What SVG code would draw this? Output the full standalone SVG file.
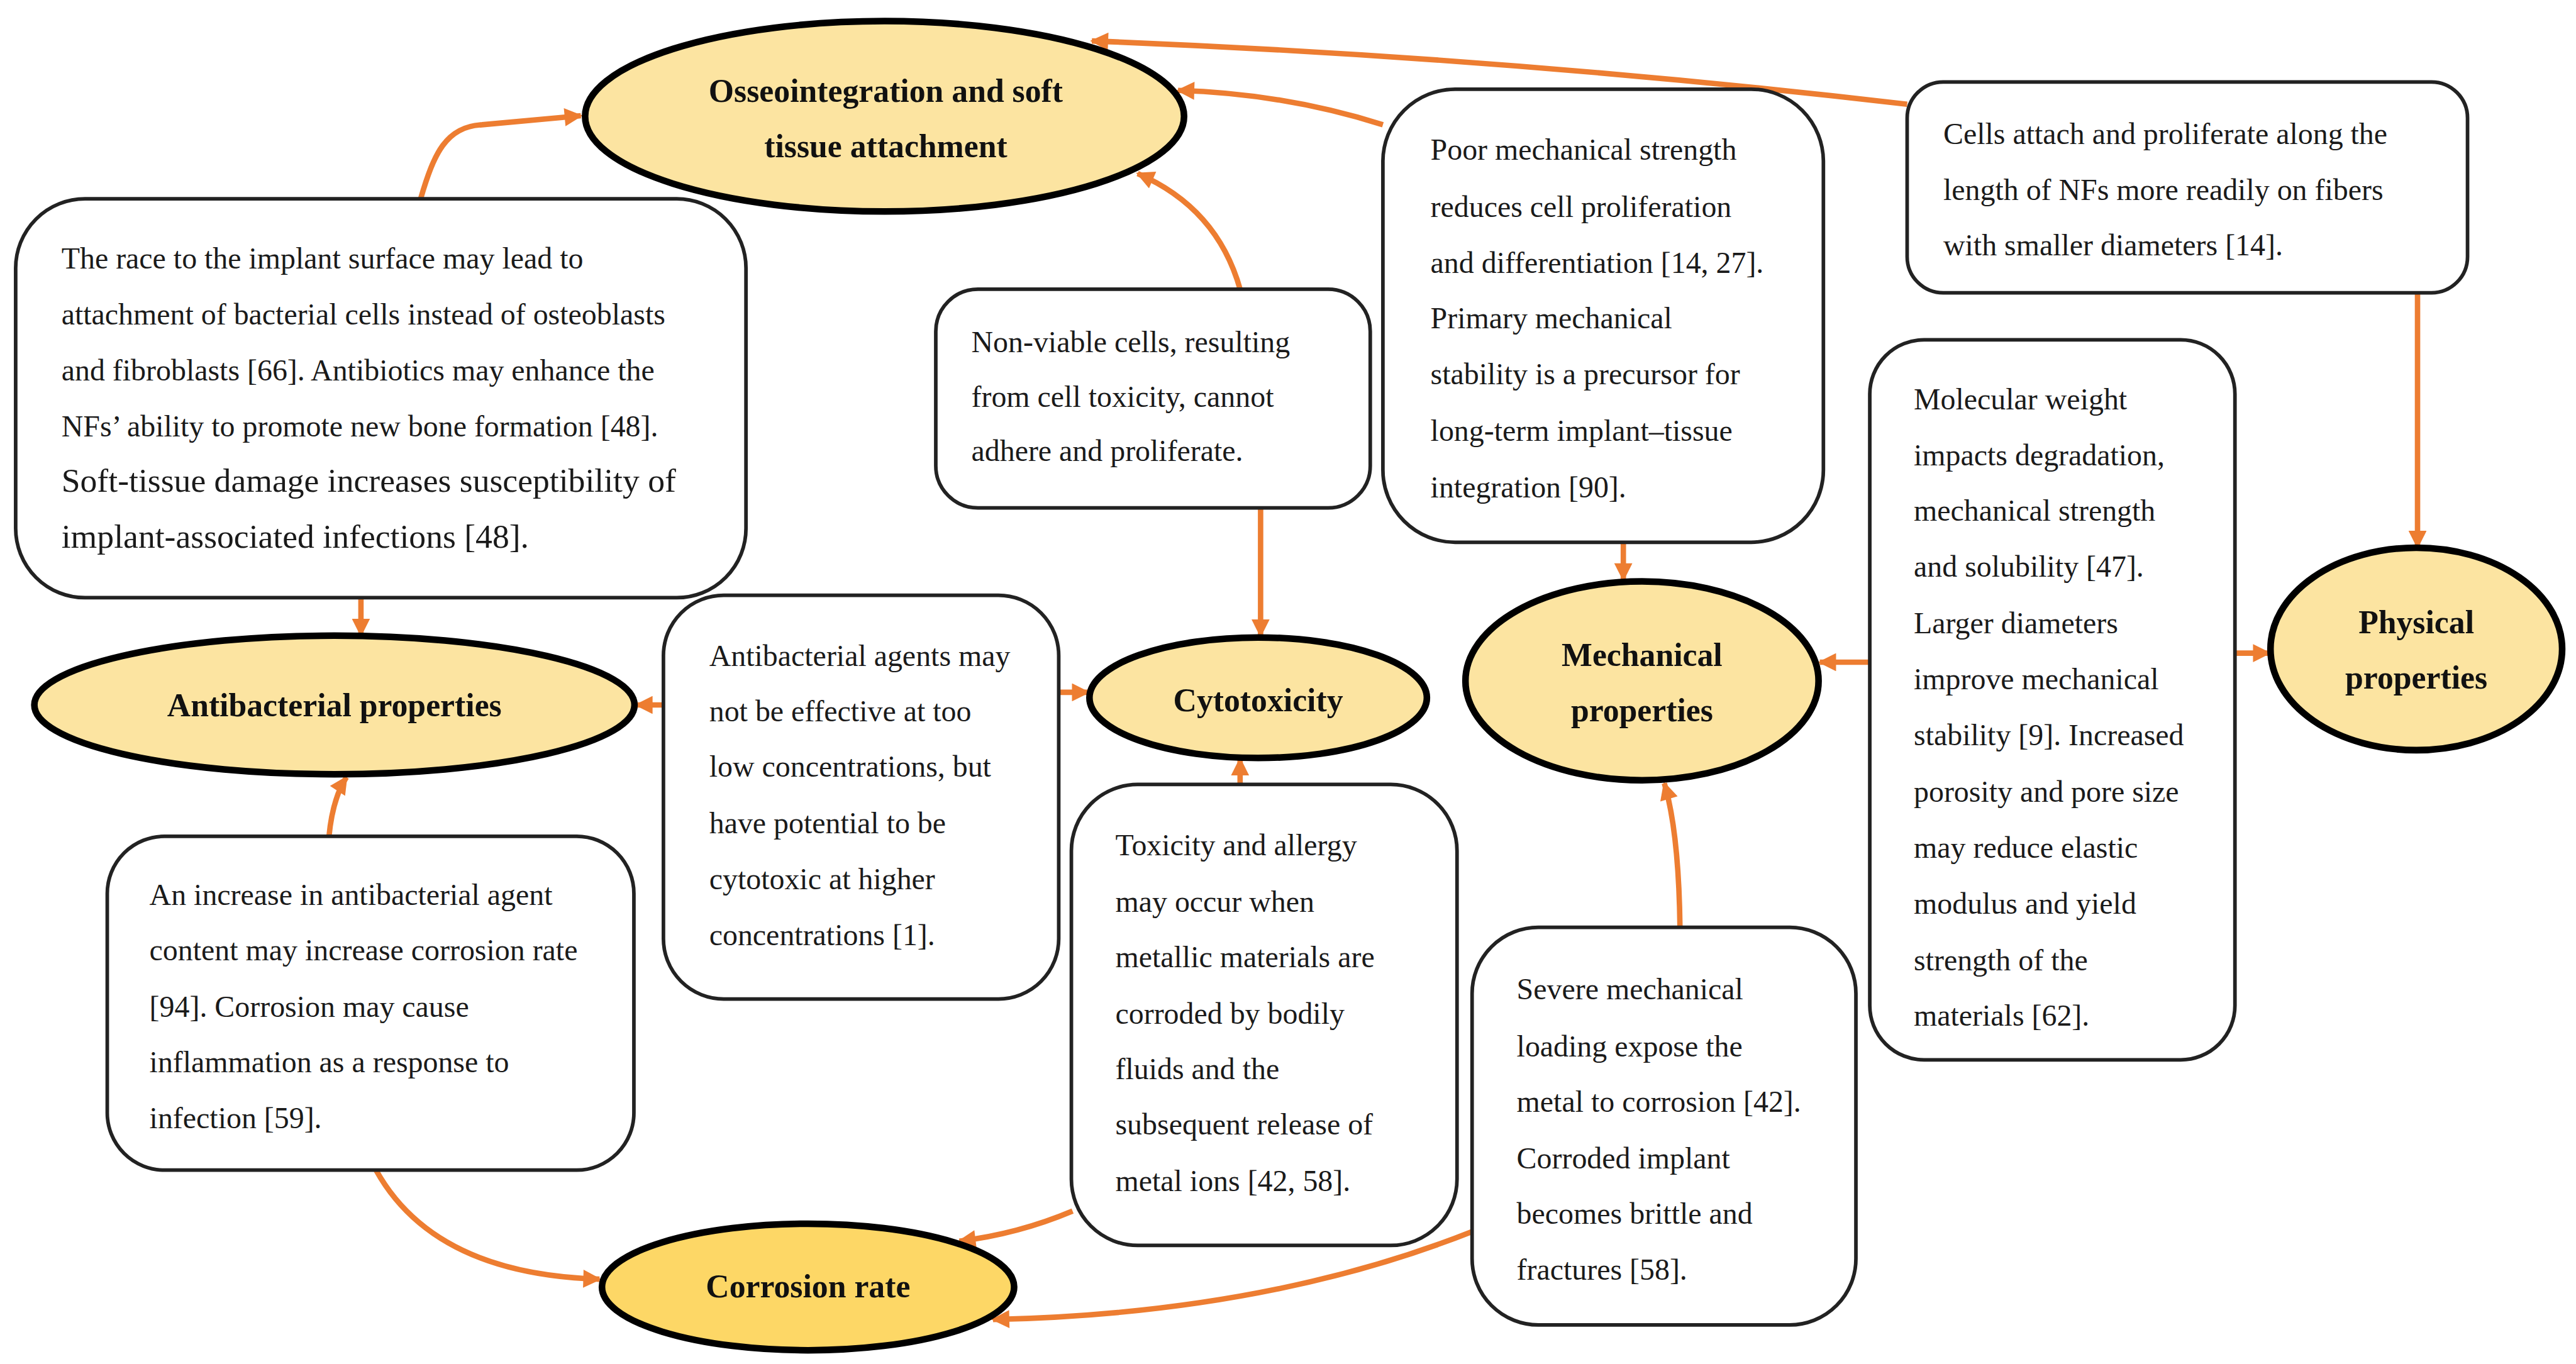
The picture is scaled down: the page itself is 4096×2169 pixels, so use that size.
<svg xmlns="http://www.w3.org/2000/svg" width="4096" height="2169" viewBox="0 0 4096 2169">
<style>
.box{fill:#fff;stroke:#222;stroke-width:6}
.ell{fill:#FCE4A1;stroke:#000;stroke-width:11}
.ell2{fill:#FDD766;stroke:#000;stroke-width:11}
.t{font-family:"Liberation Serif","Times New Roman",serif;font-size:50px;fill:#1a1a1a}
.tb{font-family:"Liberation Serif","Times New Roman",serif;font-size:54px;font-weight:bold;fill:#111;text-anchor:middle}
.big{font-size:56px}
.c{fill:none;stroke:#ED7D31;stroke-width:9;marker-end:url(#ah)}
</style>
<defs>
<marker id="ah" viewBox="0 0 10 10" refX="9" refY="5" markerUnits="userSpaceOnUse" markerWidth="34" markerHeight="30" orient="auto">
<path d="M0,0 L10,5 L0,10 z" fill="#ED7D31"/>
</marker>
</defs>
<rect width="4096" height="2169" fill="#fff"/>
<g transform="scale(0.95813)">
<g id="connectors">
<path class="c" d="M698,330 C720,255 740,210 800,207 L964,192"/>
<path class="c" d="M3165,173 Q2500,95 1812,68"/>
<path class="c" d="M2295,207 Q2130,155 1955,150"/>
<path class="c" d="M2058,480 Q2020,345 1888,288"/>
<path class="c" d="M599,992 L599,1054"/>
<path class="c" d="M1101,1170 L1056,1170"/>
<path class="c" d="M546,1388 Q552,1325 575,1290"/>
<path class="c" d="M624,1942 Q720,2115 995,2123"/>
<path class="c" d="M2092,843 L2092,1055"/>
<path class="c" d="M1757,1149 L1806,1149"/>
<path class="c" d="M2058,1302 L2058,1260"/>
<path class="c" d="M1780,2010 Q1690,2048 1592,2060"/>
<path class="c" d="M2443,2044 Q2100,2180 1648,2190"/>
<path class="c" d="M2694,900 L2694,962"/>
<path class="c" d="M2788,1539 Q2786,1380 2762,1300"/>
<path class="c" d="M3103,1099 L3020,1099"/>
<path class="c" d="M3709,1084 L3766,1084"/>
<path class="c" d="M4012,486 L4012,908"/>
</g>
<g id="osseo">
<ellipse class="ell" cx="1468" cy="193" rx="497" ry="158"/>
<text class="tb" x="1470" y="169">Osseointegration and soft</text>
<text class="tb" x="1470" y="261">tissue attachment</text>
</g>
<g id="antibacterial">
<ellipse class="ell" cx="555" cy="1170" rx="498" ry="115"/>
<text class="tb" x="555" y="1189">Antibacterial properties</text>
</g>
<g id="cytotoxicity">
<ellipse class="ell" cx="2088" cy="1158" rx="280" ry="100"/>
<text class="tb" x="2088" y="1180">Cytotoxicity</text>
</g>
<g id="mechanical">
<ellipse class="ell" cx="2725" cy="1130" rx="293" ry="165"/>
<text class="tb" x="2725" y="1105">Mechanical</text>
<text class="tb" x="2725" y="1197">properties</text>
</g>
<g id="physical">
<ellipse class="ell" cx="4010" cy="1077" rx="242" ry="168"/>
<text class="tb" x="4010" y="1051">Physical</text>
<text class="tb" x="4010" y="1143">properties</text>
</g>
<g id="corrosion">
<ellipse class="ell2" cx="1341" cy="2136" rx="342" ry="105"/>
<text class="tb" x="1341" y="2153">Corrosion rate</text>
</g>
<g id="box-race">
<rect class="box" x="26" y="330" width="1212" height="662" rx="115"/>
<text class="t" x="102" y="446">The race to the implant surface may lead to</text>
<text class="t" x="102" y="539">attachment of bacterial cells instead of osteoblasts</text>
<text class="t" x="102" y="631">and fibroblasts [66]. Antibiotics may enhance the</text>
<text class="t" x="102" y="724">NFs’ ability to promote new bone formation [48].</text>
<text class="t big" x="102" y="816">Soft-tissue damage increases susceptibility of</text>
<text class="t big" x="102" y="909">implant-associated infections [48].</text>
</g>
<g id="box-nonviable">
<rect class="box" x="1553" y="480" width="721" height="363" rx="70"/>
<text class="t" x="1612" y="584">Non-viable cells, resulting</text>
<text class="t" x="1612" y="675">from cell toxicity, cannot</text>
<text class="t" x="1612" y="765">adhere and proliferate.</text>
</g>
<g id="box-poor">
<rect class="box" x="2295" y="148" width="731" height="752" rx="120"/>
<text class="t" x="2374" y="265">Poor mechanical strength</text>
<text class="t" x="2374" y="360">reduces cell proliferation</text>
<text class="t" x="2374" y="453">and differentiation [14, 27].</text>
<text class="t" x="2374" y="545">Primary mechanical</text>
<text class="t" x="2374" y="638">stability is a precursor for</text>
<text class="t" x="2374" y="732">long-term implant–tissue</text>
<text class="t" x="2374" y="826">integration [90].</text>
</g>
<g id="box-cells">
<rect class="box" x="3165" y="136" width="930" height="350" rx="60"/>
<text class="t" x="3225" y="239">Cells attach and proliferate along the</text>
<text class="t" x="3225" y="332">length of NFs more readily on fibers</text>
<text class="t" x="3225" y="424">with smaller diameters [14].</text>
</g>
<g id="box-molecular">
<rect class="box" x="3103" y="564" width="606" height="1195" rx="90"/>
<text class="t" x="3176" y="679">Molecular weight</text>
<text class="t" x="3176" y="772">impacts degradation,</text>
<text class="t" x="3176" y="864">mechanical strength</text>
<text class="t" x="3176" y="957">and solubility [47].</text>
<text class="t" x="3176" y="1051">Larger diameters</text>
<text class="t" x="3176" y="1144">improve mechanical</text>
<text class="t" x="3176" y="1237">stability [9]. Increased</text>
<text class="t" x="3176" y="1331">porosity and pore size</text>
<text class="t" x="3176" y="1424">may reduce elastic</text>
<text class="t" x="3176" y="1517">modulus and yield</text>
<text class="t" x="3176" y="1610">strength of the</text>
<text class="t" x="3176" y="1702">materials [62].</text>
</g>
<g id="box-agents">
<rect class="box" x="1101" y="988" width="656" height="670" rx="100"/>
<text class="t" x="1177" y="1105">Antibacterial agents may</text>
<text class="t" x="1177" y="1197">not be effective at too</text>
<text class="t" x="1177" y="1289">low concentrations, but</text>
<text class="t" x="1177" y="1383">have potential to be</text>
<text class="t" x="1177" y="1476">cytotoxic at higher</text>
<text class="t" x="1177" y="1569">concentrations [1].</text>
</g>
<g id="box-increase">
<rect class="box" x="178" y="1388" width="874" height="554" rx="95"/>
<text class="t" x="248" y="1502">An increase in antibacterial agent</text>
<text class="t" x="248" y="1594">content may increase corrosion rate</text>
<text class="t" x="248" y="1688">[94]. Corrosion may cause</text>
<text class="t" x="248" y="1780">inflammation as a response to</text>
<text class="t" x="248" y="1872">infection [59].</text>
</g>
<g id="box-toxicity">
<rect class="box" x="1778" y="1302" width="640" height="765" rx="110"/>
<text class="t" x="1851" y="1419">Toxicity and allergy</text>
<text class="t" x="1851" y="1513">may occur when</text>
<text class="t" x="1851" y="1605">metallic materials are</text>
<text class="t" x="1851" y="1699">corroded by bodily</text>
<text class="t" x="1851" y="1791">fluids and the</text>
<text class="t" x="1851" y="1883">subsequent release of</text>
<text class="t" x="1851" y="1977">metal ions [42, 58].</text>
</g>
<g id="box-severe">
<rect class="box" x="2443" y="1539" width="637" height="660" rx="110"/>
<text class="t" x="2517" y="1658">Severe mechanical</text>
<text class="t" x="2517" y="1753">loading expose the</text>
<text class="t" x="2517" y="1845">metal to corrosion [42].</text>
<text class="t" x="2517" y="1939">Corroded implant</text>
<text class="t" x="2517" y="2031">becomes brittle and</text>
<text class="t" x="2517" y="2124">fractures [58].</text>
</g>
</g>
</svg>
